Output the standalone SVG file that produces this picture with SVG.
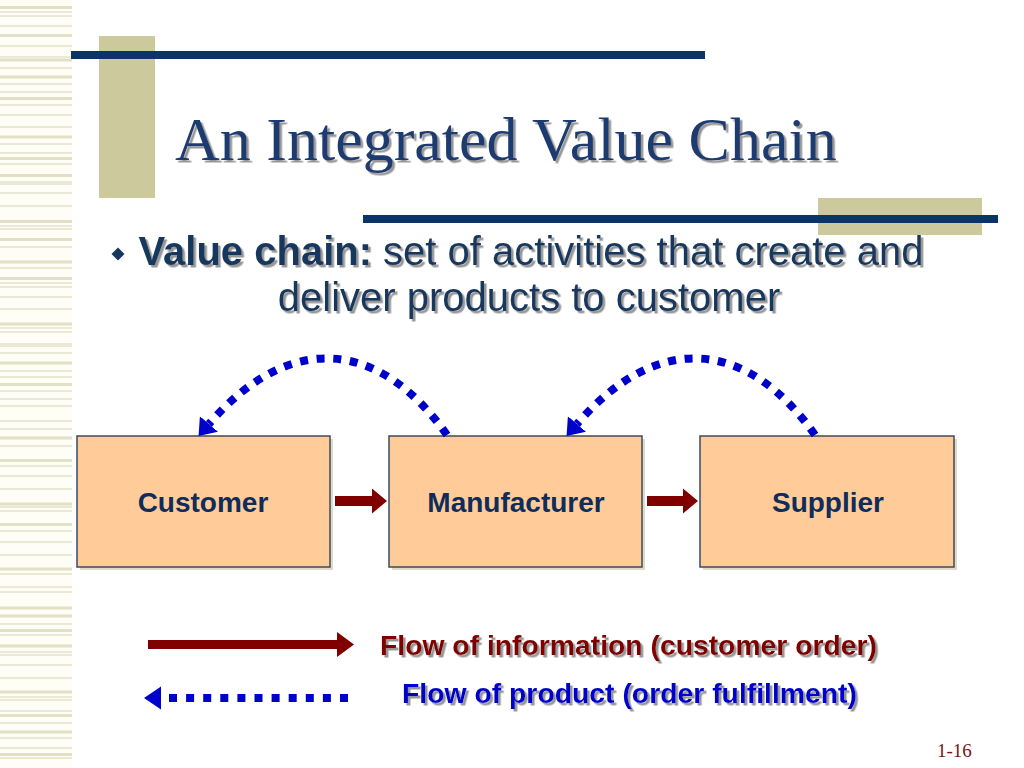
<svg xmlns="http://www.w3.org/2000/svg" width="1024" height="768" viewBox="0 0 1024 768">
<defs>
<style>
.stripeThick{stroke:#E2E0C6;stroke-width:3;fill:none}
.stripeThin{stroke:#E4E2CC;stroke-width:1.5;fill:none}
.navybar{fill:#0B3468}
.tan{fill:#CCCA9C}
.title{font-family:"Liberation Serif","Times New Roman",serif;font-size:62px;fill:#1F3A70}
.body{font-family:"Liberation Sans",Arial,sans-serif;font-size:40px;fill:#17375E}
.node rect.box{fill:#FFCC99;stroke:#3C4A5E;stroke-width:1.5}
.node rect.shadow{fill:#DEDBC8}
.node text{font-family:"Liberation Sans",Arial,sans-serif;font-size:28px;font-weight:bold;fill:#0F2C5A;text-anchor:middle}
.info{fill:#800000}
.product{fill:none;stroke:#0000CC;stroke-width:8;stroke-dasharray:8 8.7}
.legend{font-family:"Liberation Sans",Arial,sans-serif;font-size:28.4px;font-weight:bold}
.pagenum{font-family:"Liberation Serif","Times New Roman",serif;font-size:19px;fill:#7A1414}
</style>
<filter id="shadow" x="-5%" y="-20%" width="115%" height="150%">
<feDropShadow dx="2.5" dy="2.5" stdDeviation="0.6" flood-color="#8C8C8C" flood-opacity="0.9"/>
</filter>
<marker id="blueHead" viewBox="0 0 16 24" markerWidth="16" markerHeight="24" refX="0" refY="12" orient="auto" markerUnits="userSpaceOnUse">
<path d="M0,0 L16,12 L0,24 z" fill="#0000CC"/>
</marker>
</defs>

<rect width="1024" height="768" fill="#FFFFFF"/>

<!-- left stripes -->
<g id="stripes">
<rect x="0" y="0" width="72" height="768" fill="#FFFEF6"/>
<path class="stripeThick" d="M0 7.5h72M0 35.5h72M0 60h72M0 77h72M0 98.5h72M0 137h72M0 158.5h72M0 175.5h72M0 221.5h72M0 239.5h72M0 262h72M0 278.5h72M0 324h72M0 363h72M0 384.5h72M0 438h72M0 460.5h72M0 504h72M0 524.5h72M0 569h72M0 608h72M0 616h72M0 630.5h72M0 646h72M0 692h72M0 715.5h72M0 732h72M0 754.5h72"/>
<path class="stripeThin" d="M0 12h72M0 16h72M0 26h72M0 46h72M0 57h72M0 68h72M0 84h72M0 92h72M0 105h72M0 115h72M0 127h72M0 144h72M0 153h72M0 164h72M0 182h72M0 184h72M0 193h72M0 206h72M0 226h72M0 229h72M0 247h72M0 268h72M0 283h72M0 287h72M0 297h72M0 309h72M0 328h72M0 332h72M0 344h72M0 346h72M0 353h72M0 371h72M0 377h72M0 391h72M0 399h72M0 406h72M0 421h72M0 429h72M0 446h72M0 466h72M0 476h72M0 489h72M0 507h72M0 511h72M0 531h72M0 542h72M0 555h72M0 574h72M0 587h72M0 592h72M0 624h72M0 635h72M0 652h72M0 655h72M0 665h72M0 678h72M0 697h72M0 700h72M0 711h72M0 723h72M0 738h72M0 748h72M0 758h72"/>
</g>

<!-- decorative bars -->
<g id="decor">
<rect class="tan" x="99" y="36" width="56" height="162"/>
<rect class="navybar" x="71" y="51" width="634" height="8"/>
<rect class="tan" x="818" y="198" width="164" height="37"/>
<rect class="navybar" x="363" y="215" width="635" height="8"/>
</g>

<!-- title -->
<text id="title" class="title" x="175" y="160" filter="url(#shadow)">An Integrated Value Chain</text>

<!-- bullet -->
<g id="bullet">
<path d="M118 247.5 L124.5 254 L118 260.5 L111.5 254 z" fill="#17375E"/>
<text class="body" x="531" y="265" text-anchor="middle" filter="url(#shadow)"><tspan font-weight="bold">Value chain:</tspan> set of activities that create and</text>
<text class="body" x="529" y="311" text-anchor="middle" filter="url(#shadow)">deliver products to customer</text>
</g>

<!-- nodes -->
<g id="customer" class="node">
<rect class="shadow" x="80" y="439" width="253" height="131"/>
<rect class="box" x="77" y="436" width="253" height="131"/>
<text x="203" y="512">Customer</text>
</g>
<g id="manufacturer" class="node">
<rect class="shadow" x="392" y="439" width="253" height="131"/>
<rect class="box" x="389" y="436" width="253" height="131"/>
<text x="516" y="512">Manufacturer</text>
</g>
<g id="supplier" class="node">
<rect class="shadow" x="703" y="439" width="254" height="131"/>
<rect class="box" x="700" y="436" width="254" height="131"/>
<text x="828" y="512">Supplier</text>
</g>

<!-- connectors -->
<g id="connectors">
<path class="info" d="M335 496 H372 V488.5 L387 501 L372 513.5 V506 H335 z"/>
<path class="info" d="M647 496 H683 V488.5 L698 501 L683 513.5 V506 H647 z"/>
<path class="product" d="M447 435 C380 340 290 330 209 424" marker-end="url(#blueHead)"/>
<path class="product" d="M815 435 C748 340 658 330 577 424" marker-end="url(#blueHead)"/>
</g>

<!-- legend -->
<g id="legend">
<path class="info" d="M148 640 H337 V632 L354 644.5 L337 657 V649 H148 z"/>
<text class="legend" x="380" y="655" fill="#800000" filter="url(#shadow)" textLength="497" lengthAdjust="spacingAndGlyphs">Flow of information (customer order)</text>
<path d="M144 698 L161 686.5 L161 709.5 z" fill="#0000CC"/>
<path d="M169 698 H348" fill="none" stroke="#0000CC" stroke-width="8" stroke-dasharray="8 9.1"/>
<text class="legend" x="402" y="703" fill="#0000CC" filter="url(#shadow)" textLength="455" lengthAdjust="spacingAndGlyphs">Flow of product (order fulfillment)</text>
</g>

<text id="page" class="pagenum" x="937" y="757">1-16</text>
</svg>
